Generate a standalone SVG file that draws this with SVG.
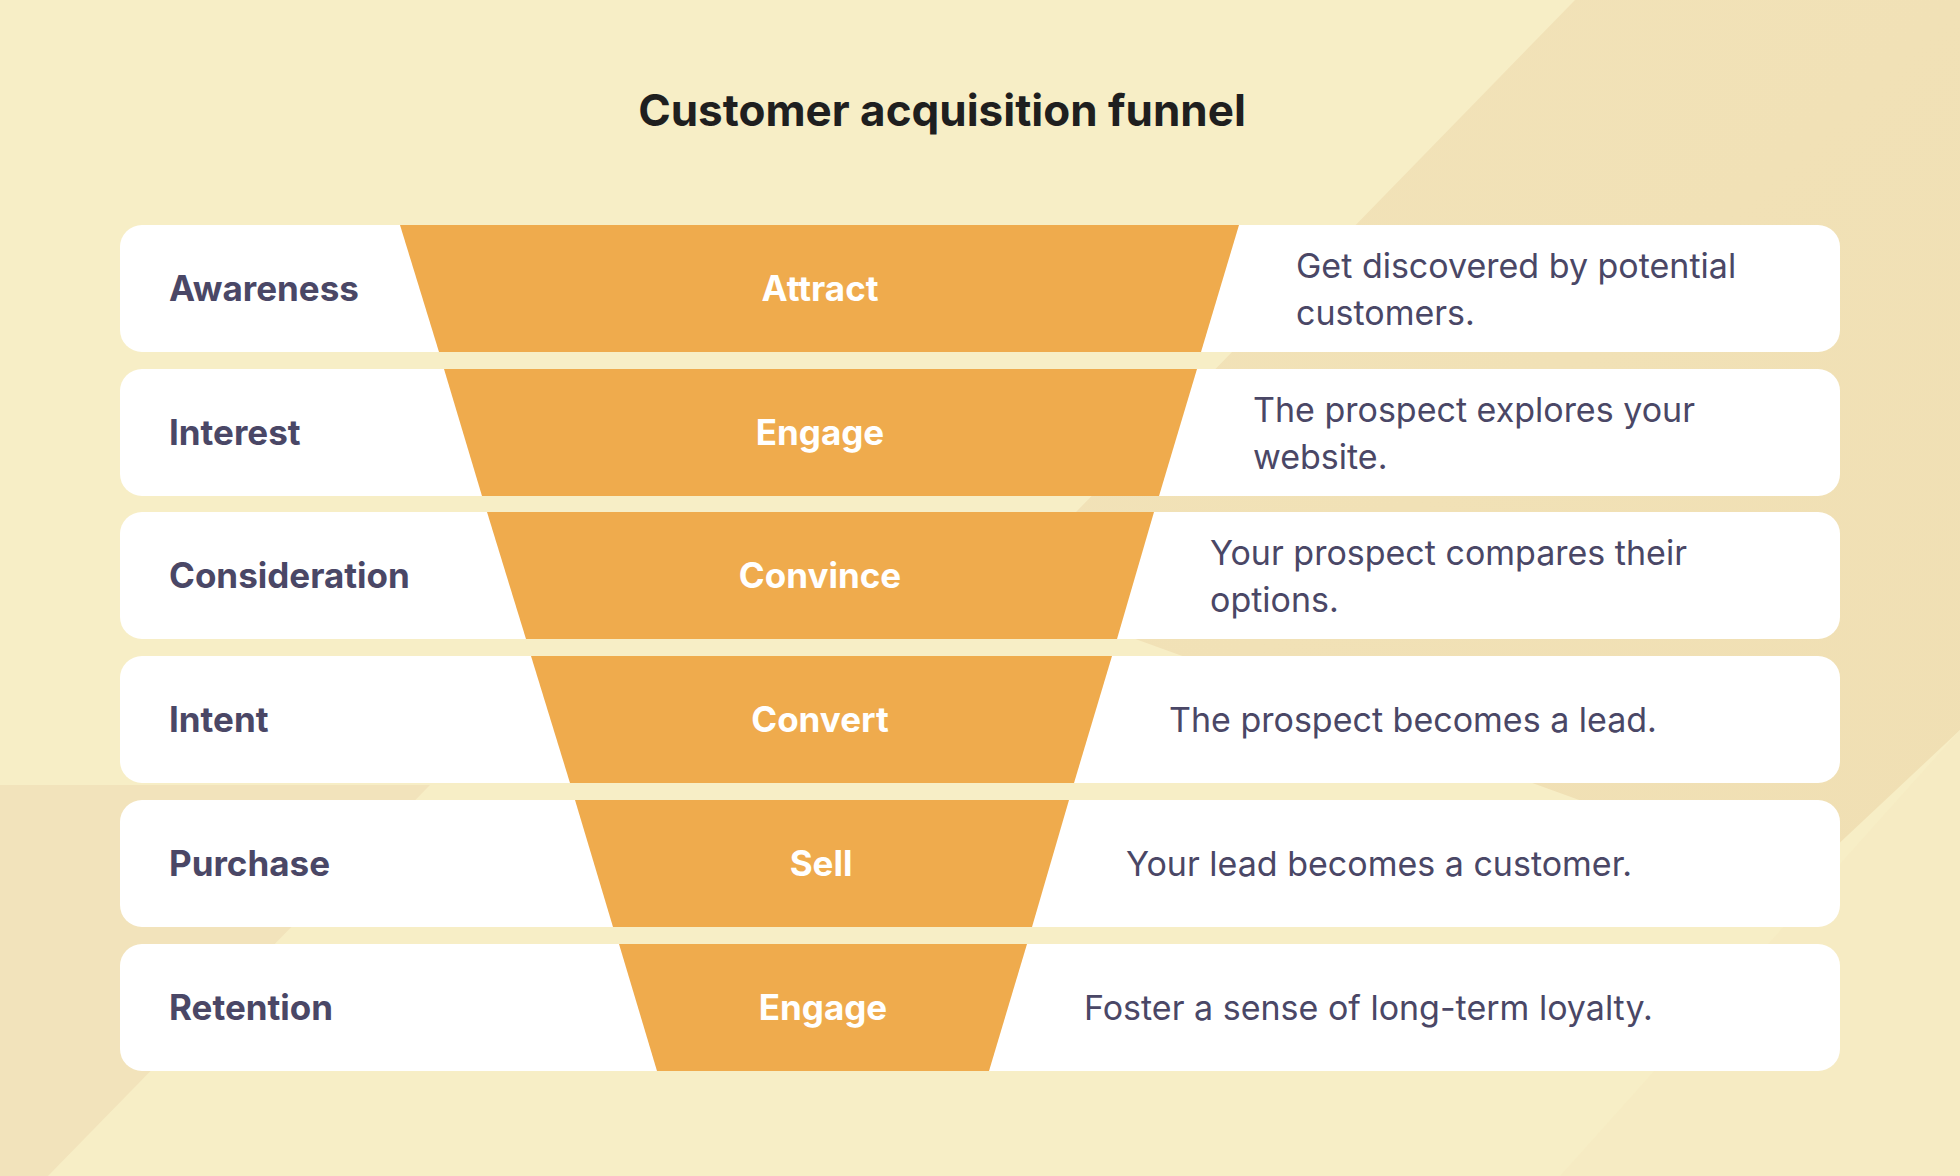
<svg xmlns="http://www.w3.org/2000/svg" width="1960" height="1176" viewBox="0 0 1960 1176">
<defs>
<style>
.box{fill:#ffffff}
.fun{fill:#efab4d}
.lab{font-family:Inter,"Liberation Sans",sans-serif;font-weight:700;font-size:35px;fill:#4a4766}
.cen{font-family:Inter,"Liberation Sans",sans-serif;font-weight:700;font-size:35px;fill:#ffffff;text-anchor:middle}
.desc{font-family:Inter,"Liberation Sans",sans-serif;font-size:34px;fill:#4a4766}
</style>
<linearGradient id="tr" x1="0" y1="0" x2="1" y2="1"><stop offset="0" stop-color="#f2e3b9"/><stop offset="1" stop-color="#f0dfb3"/></linearGradient>
</defs>
<rect width="1960" height="1176" fill="#f7eec6"/>
<polygon points="1575,0 1960,0 1960,730 1800,880 1000,590" fill="url(#tr)"/>
<polygon points="0,1176 48,1176 430,785 0,785" fill="#f2e3bb"/>
<polygon points="1960,730 1960,1176 1560,1176" fill="#f6ebc3"/>
<text x="942" y="126" text-anchor="middle" font-family="Inter,'Liberation Sans',sans-serif" font-weight="700" font-size="44" fill="#1f1f1f">Customer acquisition funnel</text>
<g id="row1"><rect class="box" x="120" y="225" width="1720" height="127" rx="22"/><polygon class="fun" points="400,225 1239,225 1201,352 439,352"/><text class="lab" x="169" y="301">Awareness</text><text class="cen" x="820" y="301">Attract</text><text class="desc" x="1296" y="278">Get discovered by potential</text><text class="desc" x="1296" y="325">customers.</text></g>
<g id="row2"><rect class="box" x="120" y="369" width="1720" height="127" rx="22"/><polygon class="fun" points="444,369 1197,369 1159,496 482,496"/><text class="lab" x="169" y="445">Interest</text><text class="cen" x="820" y="445">Engage</text><text class="desc" x="1253" y="422">The prospect explores your</text><text class="desc" x="1253" y="469">website.</text></g>
<g id="row3"><rect class="box" x="120" y="512" width="1720" height="127" rx="22"/><polygon class="fun" points="487,512 1154,512 1117,639 526,639"/><text class="lab" x="169" y="588">Consideration</text><text class="cen" x="820" y="588">Convince</text><text class="desc" x="1210" y="565">Your prospect compares their</text><text class="desc" x="1210" y="612">options.</text></g>
<g id="row4"><rect class="box" x="120" y="656" width="1720" height="127" rx="22"/><polygon class="fun" points="531,656 1112,656 1074,783 570,783"/><text class="lab" x="169" y="732">Intent</text><text class="cen" x="820" y="732">Convert</text><text class="desc" x="1169" y="732">The prospect becomes a lead.</text></g>
<g id="row5"><rect class="box" x="120" y="800" width="1720" height="127" rx="22"/><polygon class="fun" points="575,800 1069,800 1032,927 613,927"/><text class="lab" x="169" y="876">Purchase</text><text class="cen" x="821" y="876">Sell</text><text class="desc" x="1126" y="876">Your lead becomes a customer.</text></g>
<g id="row6"><rect class="box" x="120" y="944" width="1720" height="127" rx="22"/><polygon class="fun" points="619,944 1027,944 989,1071 657,1071"/><text class="lab" x="169" y="1020">Retention</text><text class="cen" x="823" y="1020">Engage</text><text class="desc" x="1084" y="1020">Foster a sense of long-term loyalty.</text></g>
<g id="connectors"/>
</svg>
